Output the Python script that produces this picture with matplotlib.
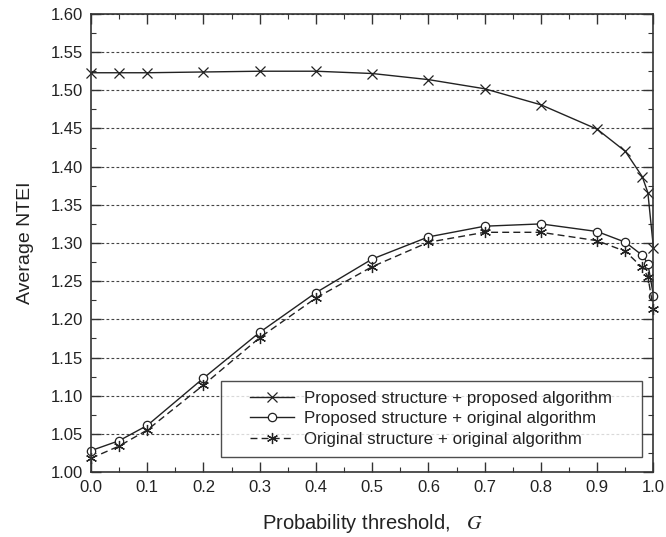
import numpy as np
import matplotlib
matplotlib.use("Agg")
import matplotlib.pyplot as plt
from matplotlib.ticker import MultipleLocator
from matplotlib.legend_handler import HandlerLine2D

plt.rcParams['font.family'] = ['Liberation Sans', 'DejaVu Sans']

# probability threshold values and average NTEI for each scheme
threshold = [0.0, 0.05, 0.1, 0.2, 0.3, 0.4, 0.5, 0.6, 0.7, 0.8, 0.9, 0.95, 0.98, 0.99, 1.0]
prop_struct_prop_alg = [1.523, 1.523, 1.523, 1.524, 1.525, 1.525, 1.522, 1.514, 1.502, 1.481,
                        1.449, 1.420, 1.387, 1.366, 1.293]
prop_struct_orig_alg = [1.028, 1.041, 1.061, 1.123, 1.183, 1.235, 1.279, 1.308, 1.322, 1.325,
                        1.315, 1.301, 1.284, 1.273, 1.231]
orig_struct_orig_alg = [1.018, 1.034, 1.055, 1.114, 1.176, 1.228, 1.269, 1.301, 1.314, 1.314,
                        1.303, 1.289, 1.268, 1.256, 1.213]
labels = ['Proposed structure + proposed algorithm',
          'Proposed structure + original algorithm',
          'Original structure + original algorithm']

fig = plt.figure(figsize=(6.66, 5.37), dpi=100)
ax = fig.add_axes([0.1366, 0.121, 0.8446, 0.853])

lc = '#222222'
l1, = ax.plot(threshold, prop_struct_prop_alg, color=lc, lw=1.0, marker='x', ms=7,
              mew=0.9, clip_on=False, label=labels[0])
l2, = ax.plot(threshold, prop_struct_orig_alg, color=lc, lw=1.0, marker='o', ms=6,
              mfc='white', mew=0.9, clip_on=False, label=labels[1])
l3, = ax.plot(threshold, orig_struct_orig_alg, color=lc, lw=1.0, marker=(6, 2, 0), ms=8,
              mew=0.9, ls=(0, (5, 3)), clip_on=False, label=labels[2])

ax.set_xlim(0.0, 1.0)
ax.set_ylim(1.00, 1.60)
ax.xaxis.set_major_locator(MultipleLocator(0.1))
ax.xaxis.set_minor_locator(MultipleLocator(0.05))
ax.yaxis.set_major_locator(MultipleLocator(0.05))
ax.yaxis.set_minor_locator(MultipleLocator(0.025))
ax.xaxis.set_major_formatter(matplotlib.ticker.FormatStrFormatter('%.1f'))
ax.yaxis.set_major_formatter(matplotlib.ticker.FormatStrFormatter('%.2f'))

ax.tick_params(which='both', direction='in', top=True, right=True, colors='#333333',
               labelcolor='#222222', labelsize=12)
ax.tick_params(which='major', length=7, width=1.0, pad=6)
ax.tick_params(which='minor', length=3.5, width=0.8)
for s in ax.spines.values():
    s.set_color('#333333')
    s.set_linewidth(1.2)

ax.grid(axis='y', which='major', color='#444444', ls=(0, (2.5, 2)), lw=0.8)

ax.set_xlabel('Probability threshold,   $G$', fontsize=14.5, color='#222222', labelpad=12)
ax.xaxis.label.set_math_fontfamily('stix')
ax.set_ylabel('Average NTEI', fontsize=14, color='#222222', labelpad=12)

# indent the legend handles away from the frame edge
hmap = {h: HandlerLine2D(xpad=1.1) for h in (l1, l2, l3)}
leg = ax.legend(loc='lower left', bbox_to_anchor=(0.231, 0.033, 0.748, 0.164), mode='expand',
                fontsize=12.2, frameon=True, fancybox=False, handlelength=3.7,
                handletextpad=0.6, labelspacing=0.32, borderpad=0.6, borderaxespad=0,
                handler_map=hmap)
leg.get_frame().set_edgecolor('#222222')
leg.get_frame().set_linewidth(1.0)
for t in leg.get_texts():
    t.set_color('#222222')

fig.savefig('out.png', dpi=100)
